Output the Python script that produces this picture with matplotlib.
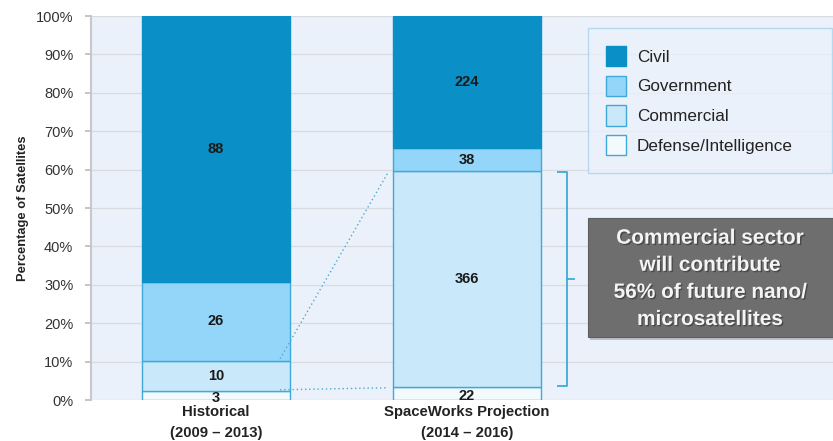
import matplotlib
matplotlib.use("Agg")
import matplotlib.pyplot as plt
import matplotlib.patheffects as pe
from matplotlib.patches import Rectangle
import numpy as np

plt.rcParams['font.family'] = ['Liberation Sans', 'DejaVu Sans']

categories = ["Historical\n(2009 \u2013 2013)", "SpaceWorks Projection\n(2014 \u2013 2016)"]
series_names = ["Defense/Intelligence", "Commercial", "Government", "Civil"]
counts = {
    "Defense/Intelligence": [3, 22],
    "Commercial": [10, 366],
    "Government": [26, 38],
    "Civil": [88, 224],
}
colors = {
    "Civil": "#0A8FC6",
    "Government": "#94D6F9",
    "Commercial": "#C9E8FA",
    "Defense/Intelligence": "#F3FAFE",
}
yticks = [0, 10, 20, 30, 40, 50, 60, 70, 80, 90, 100]

fig = plt.figure(figsize=(8.33, 4.41), dpi=100)
fig.patch.set_facecolor("white")
ax = fig.add_axes([91/833, 1-400/441, 1-91/833, 384/441])
ax.set_facecolor("#EAF1FA")

x = np.arange(len(categories))
width = 0.59
totals = np.sum([counts[s] for s in series_names], axis=0)
bottom = np.zeros(len(categories))
tops = {}
for s in series_names:
    vals = np.array(counts[s], dtype=float)
    pct = vals / totals * 100
    edge = colors["Civil"] if s == "Civil" else "#3FA9D9"
    ax.bar(x, pct, width, bottom=bottom, color=colors[s], edgecolor=edge,
           linewidth=1.0, zorder=3, label=s)
    for i in range(len(x)):
        yc = bottom[i] + pct[i] / 2
        if s == "Defense/Intelligence":
            yc = bottom[i] + pct[i] / 2 - 0.6
        ax.text(x[i], yc, str(int(vals[i])), ha="center", va="center",
                fontsize=10.5, fontweight="bold", color="#1a1a1a", zorder=5)
    bottom = bottom + pct
    tops[s] = bottom.copy()

ax.set_xlim(-0.498, 2.458)
ax.set_ylim(0, 100)
ax.set_yticks(yticks)
ax.set_yticklabels([f"{t}%" for t in yticks], fontsize=10.5, color="#333333")
ax.yaxis.grid(True, color="#D8DCE1", linewidth=0.9, zorder=0)
ax.set_axisbelow(True)
ax.tick_params(axis="y", length=4.3, color="#BBBBBB", width=1.2, pad=8.5)
ax.set_xticks(x)
ax.set_xticklabels(categories, fontsize=10.7, fontweight="bold", color="#222222",
                   linespacing=1.65)
ax.tick_params(axis="x", length=0, pad=3.5)
for sp in ["top", "right", "bottom"]:
    ax.spines[sp].set_visible(False)
ax.spines["left"].set_color("#C8C8C8")
ax.spines["left"].set_linewidth(1.5)
ax.set_ylabel("Percentage of Satellites", fontsize=9.3, color="#222222", labelpad=5,
              fontweight="bold")

# dotted connector lines
dot_col = "#4FA9CF"
ax.plot([x[0] + width/2 - 0.04, x[1] - width/2 - 0.02],
        [tops["Commercial"][0] + 0.5, tops["Commercial"][1] - 0.5],
        linestyle=(0, (1, 2)), color=dot_col, linewidth=1.0, zorder=4)
ax.plot([x[0] + width/2 - 0.04, x[1] - width/2 - 0.02],
        [tops["Defense/Intelligence"][0] + 0.3, tops["Defense/Intelligence"][1] - 0.2],
        linestyle=(0, (1, 2)), color=dot_col, linewidth=1.0, zorder=4)

# bracket
bx = x[1] + width/2 + 0.103
y0 = tops["Defense/Intelligence"][1] + 0.2
y1 = tops["Commercial"][1] - 0.3
ax.plot([bx - 0.04, bx, bx, bx - 0.04], [y0, y0, y1, y1], color="#3FA9D9",
        linewidth=1.3, zorder=4, solid_capstyle="butt")
ym = (y0 + y1) / 2
ax.plot([bx, bx + 0.028], [ym, ym], color="#3FA9D9", linewidth=1.3, zorder=4)

# legend
handles, labels = ax.get_legend_handles_labels()
order = [3, 2, 1, 0]
lx0 = (588 - 91) / 742
lw = (832 - 588) / 742
ltop = (400 - 28) / 384
leg = ax.legend([handles[i] for i in order], [labels[i] for i in order],
                loc="upper left", bbox_to_anchor=(lx0, ltop - 0.5, lw, 0.5),
                mode="expand", frameon=True, fontsize=12.3, handlelength=1.2,
                handleheight=1.45, labelspacing=0.55, borderpad=1.05,
                handletextpad=0.6, borderaxespad=0)
leg.get_frame().set_facecolor("#EAF1FA")
leg.get_frame().set_edgecolor("#A9D3EE")
leg.get_frame().set_linewidth(1.0)
leg.get_frame().set_boxstyle("square", pad=0)
for t in leg.get_texts():
    t.set_color("#222222")
leg.set_zorder(6)

# annotation box
bx0, by0, bw, bh = 588/833, 1-337/441, 245/833, 119/441
shadow = Rectangle((bx0 + 0.003, by0 - 0.006), bw, bh, transform=fig.transFigure,
                   facecolor="#BCC1C7", edgecolor="none", zorder=7)
fig.add_artist(shadow)
box = Rectangle((bx0, by0), bw, bh, transform=fig.transFigure,
                facecolor="#6E6E6E", edgecolor="#5E5E5E", linewidth=0.8, zorder=8)
fig.add_artist(box)
fig.text(bx0 + bw/2, by0 + bh/2 - 0.003,
         "Commercial sector\nwill contribute\n56% of future nano/\nmicrosatellites",
         ha="center", va="center", color="#F4F4F4", fontsize=15, fontweight="bold",
         linespacing=1.54, zorder=9,
         path_effects=[pe.withSimplePatchShadow(offset=(1, -1), shadow_rgbFace="#333333",
                                                alpha=0.6)])

fig.savefig("out.png", dpi=100, facecolor="white")
